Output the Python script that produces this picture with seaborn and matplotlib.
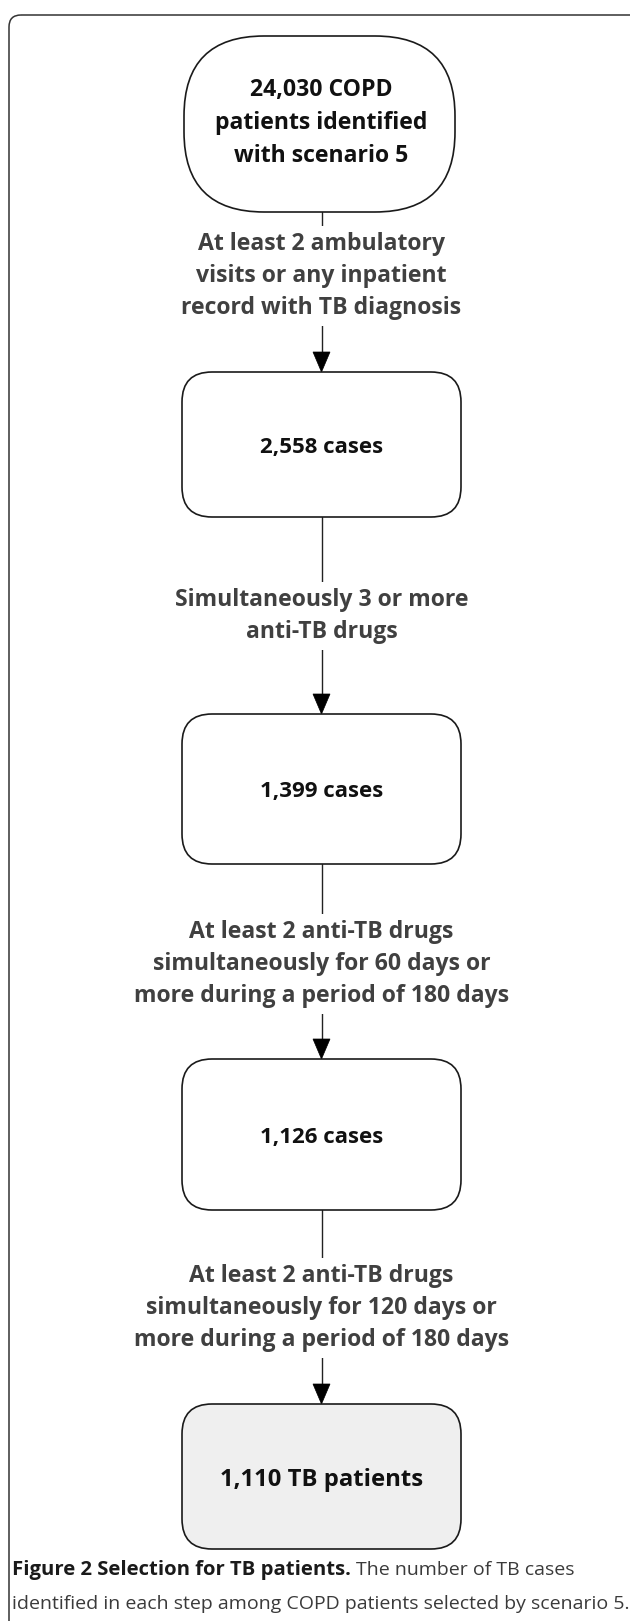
import matplotlib
matplotlib.use("Agg")
import matplotlib.pyplot as plt
from matplotlib.patches import FancyBboxPatch, Polygon
import seaborn as sns

sns.set_theme(style="white")
plt.rcParams['font.family'] = ['Open Sans', 'DejaVu Sans']

# Flowchart content
node_labels = ["24,030 COPD\npatients identified\nwith scenario 5",
               "2,558 cases", "1,399 cases", "1,126 cases", "1,110 TB patients"]
step_labels = ["At least 2 ambulatory\nvisits or any inpatient\nrecord with TB diagnosis",
               "Simultaneously 3 or more\nanti-TB drugs",
               "At least 2 anti-TB drugs\nsimultaneously for 60 days or\nmore during a period of 180 days",
               "At least 2 anti-TB drugs\nsimultaneously for 120 days or\nmore during a period of 180 days"]
caption_bold = "Figure 2 Selection for TB patients."
caption_rest = ["The number of TB cases",
                "identified in each step among COPD patients selected by scenario 5."]

# layout (pixel coordinates)
node_y = [(36, 212), (372, 517), (714, 864), (1059, 1210), (1404, 1549)]
step_y = [276, 616, 964, 1308]
cx = 321.5
W, H = 630, 1621

fig = plt.figure(figsize=(W / 100, H / 100), dpi=100)
ax = fig.add_axes([0, 0, 1, 1])
ax.set_xlim(0, W)
ax.set_ylim(H, 0)
ax.axis("off")

# outer frame
ax.add_patch(FancyBboxPatch((9, 15), 640, 1640, boxstyle="round,pad=0,rounding_size=12",
                            fc="none", ec="#333333", lw=1.1))

# connectors
for i in range(len(step_labels)):
    y0 = node_y[i][1]
    y1 = node_y[i + 1][0]
    ax.plot([cx, cx], [y0, y1 - 18], color="#222222", lw=1.0, zorder=1)
    ax.add_patch(Polygon([[cx - 8.5, y1 - 20], [cx + 8.5, y1 - 20], [cx, y1]],
                         closed=True, fc="black", ec="black", lw=0.5, zorder=2))
    ax.text(cx, step_y[i], step_labels[i], ha="center", va="center", fontsize=16.6,
            fontweight="bold", color="#404040", linespacing=1.45, zorder=3,
            bbox=dict(fc="white", ec="none", pad=4))

# nodes
for i, lab in enumerate(node_labels):
    top, bot = node_y[i]
    if i == 0:
        x0, x1, r, fc = 184, 455, 80, "white"
        dy = -1
    else:
        x0, x1, r, fc = 182, 461, 30, "#efefef" if i == len(node_labels) - 1 else "white"
        dy = 3
    ax.add_patch(FancyBboxPatch((x0, top), x1 - x0, bot - top,
                                boxstyle=f"round,pad=0,rounding_size={r}",
                                fc=fc, ec="#1a1a1a", lw=1.2, zorder=2))
    fs = 17.2 if i == len(node_labels) - 1 else (16.6 if i == 0 else 16)
    ax.text(cx, (top + bot) / 2 + dy, lab, ha="center", va="center", fontsize=fs,
            fontweight="bold", color="#111111", linespacing=1.5, zorder=3)

# caption
t = ax.text(12, 1570, caption_bold, ha="left", va="center", fontsize=14.6,
            fontweight="bold", color="#1a1a1a")
fig.canvas.draw()
bb = t.get_window_extent()
x_end = ax.transData.inverted().transform((bb.x1, bb.y0))[0]
ax.text(x_end + 5, 1570, caption_rest[0], ha="left", va="center", fontsize=14,
        color="#3a3a3a")
ax.text(12, 1604, caption_rest[1], ha="left", va="center", fontsize=14, color="#3a3a3a")

plt.savefig("out.png", dpi=100)
